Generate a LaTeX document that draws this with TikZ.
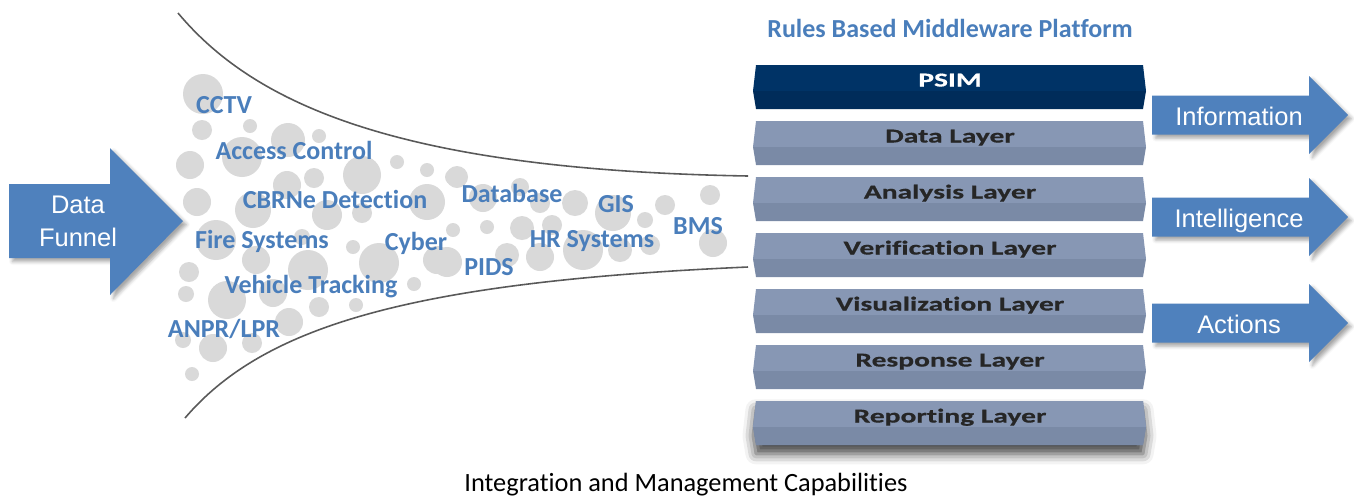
\documentclass[tikz,border=0pt]{standalone}
\usepackage{fontspec}
\setmainfont{Carlito}[Ligatures=NoCommon]
\newfontfamily\arrowfont{Liberation Sans}
\newfontfamily\layerfont{Carlito}[FakeStretch=1.5,Ligatures=NoCommon,
  BoldFeatures={FakeBold=0.6}]
\usetikzlibrary{shadows.blur}
\definecolor{arrowblue}{RGB}{79,129,189}
\definecolor{feedblue}{RGB}{74,126,187}
\definecolor{bubblegray}{RGB}{217,217,217}
\definecolor{funnelgray}{RGB}{89,89,89}
\definecolor{psimtop}{RGB}{0,51,102}
\definecolor{psimbot}{RGB}{0,44,90}
\definecolor{layertop}{RGB}{135,151,180}
\definecolor{layerbot}{RGB}{122,138,166}
\definecolor{layerink}{RGB}{38,38,38}

\begin{document}
\begin{tikzpicture}[x=0.02cm,y=-0.02cm,
    bubble/.style={fill=bubblegray},
    funnel/.style={draw=funnelgray,line width=0.9pt},
    source/.style={text=feedblue,font=\bfseries\fontsize{14.8}{17}\selectfont,inner sep=0pt,anchor=base},
    bigarrow/.style={fill=arrowblue,blur shadow={shadow xshift=2pt,shadow yshift=-2pt,shadow blur radius=2pt,shadow opacity=35}},
    arrowtext/.style={text=white,font=\arrowfont\fontsize{14.5}{18.7}\selectfont,align=center,inner sep=0pt},
    layername/.style={font=\layerfont\bfseries\fontsize{11.2}{13}\selectfont,inner sep=0pt,anchor=base}]
  \useasboundingbox (0,0) rectangle (1354,495);

  % bubbles inside the funnel
  \foreach \x/\y/\r in {203/94/20, 202/130/10, 250/126/7, 288/140/17, 319/136/7,
      242/157/20, 190/165/14, 314/178/10, 362/175/19, 397/162/7, 427/170/7,
      453/177/8, 287/185/14, 197/202/14, 253/210/18, 327/215/15, 362/213/10,
      427/202/18, 453/230/7, 216/240/20, 302/237/8, 353/247/7, 256/260/14,
      308/270/20, 379/263/20, 437/260/14, 189/272/10, 186/294/8, 227/300/19,
      273/293/14, 319/307/10, 356/305/7, 414/284/7, 289/322/14, 183/340/8,
      213/348/14, 252/343/10, 192/374/7, 457/177/11, 483/198/14, 520/187/9,
      540/203/10, 575/203/13, 487/227/7, 522/228/12, 552/225/10, 507/255/12,
      540/257/14, 583/250/20, 613/213/18, 645/220/8, 665/205/10, 620/250/12,
      650/245/10, 710/195/10, 713/243/14, 447/262/15}{
    \fill[bubble] (\x,\y) circle (\r);
  }

  % funnel walls
  \draw[funnel] (178,13) .. controls (255,105) and (400,170) .. (748,176);
  \draw[funnel] (185,418) .. controls (262,328) and (405,282) .. (748,267);

  % sources
  \node[source] (cctv) at (224,113) {CCTV};
  \node[source] (access) at (294,159) {Access Control};
  \node[source] (cbrne) at (335,208) {CBRNe Detection};
  \node[source] (fire) at (262,248) {Fire Systems};
  \node[source] (cyber) at (416,250) {Cyber};
  \node[source] (vehicle) at (311,293) {Vehicle Tracking};
  \node[source] (anpr) at (224,337) {ANPR/LPR};
  \node[source] (database) at (512,202) {Database};
  \node[source] (gis) at (616,212) {GIS};
  \node[source] (hr) at (592,247) {HR Systems};
  \node[source] (pids) at (489,275) {PIDS};
  \node[source] (bms) at (698,234) {BMS};

  % input arrow
  \fill[bigarrow] (9,184) -- (110,184) -- (110,148) -- (183,221) -- (110,295) -- (110,258) -- (9,258) -- cycle;
  \node[arrowtext] (funnelin) at (78,221) {Data\\Funnel};

  % platform stack
  \node[text=feedblue,font=\bfseries\fontsize{14.8}{17}\selectfont,anchor=base] (platform) at (950,37) {Rules Based Middleware Platform};
  \fill[blur shadow={shadow xshift=0pt,shadow yshift=-5pt,shadow blur radius=6pt,shadow opacity=75},fill=layerbot]
    (756,401) -- (1143,401) -- (1146,427) -- (1143,445) -- (756,445) -- (753,427) -- cycle;
  \foreach \name/\y/\top/\bot/\ink/\txt in {psim/65/psimtop/psimbot/white/PSIM,
      data/121/layertop/layerbot/layerink/Data Layer,
      analysis/177/layertop/layerbot/layerink/Analysis Layer,
      verification/233/layertop/layerbot/layerink/Verification Layer,
      visualization/289/layertop/layerbot/layerink/Visualization Layer,
      response/345/layertop/layerbot/layerink/Response Layer,
      reporting/401/layertop/layerbot/layerink/Reporting Layer}{
    \fill[\top] (756,\y) -- (1143,\y) -- (1146,\y+26) -- (753,\y+26) -- cycle;
    \fill[\bot] (753,\y+26) -- (1146,\y+26) -- (1143,\y+44) -- (756,\y+44) -- cycle;
    \node[layername,text=\ink] (\name) at (950,\y+21.5) {\txt};
  }

  % output arrows
  \foreach \name/\y/\txt in {info/115/Information, intel/217/Intelligence, actions/323/Actions}{
    \fill[bigarrow] (1152,\y-19.5) -- (1309,\y-19.5) -- (1309,\y-39) -- (1348,\y) -- (1309,\y+39)
      -- (1309,\y+19.5) -- (1152,\y+19.5) -- cycle;
    \node[arrowtext,anchor=base] (\name) at (1239,\y+10) {\txt};
  }

  \node[font=\fontsize{15}{18}\selectfont,anchor=base] (caption) at (686,491) {Integration and Management Capabilities};
\end{tikzpicture}
\end{document}
